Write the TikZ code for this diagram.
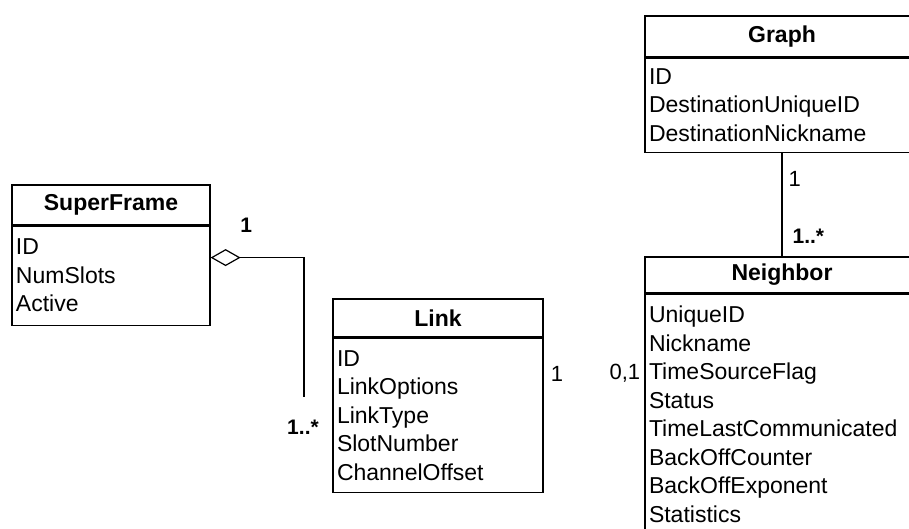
\documentclass[tikz,border=0pt]{standalone}
\usepackage{fontspec}
\setmainfont{Liberation Sans}
\usetikzlibrary{positioning}
\usetikzlibrary{arrows.meta}

\tikzset{
  classhead/.style={draw, rectangle, line width=1.2pt, inner sep=0pt, font=\fontsize{23}{26}\selectfont\bfseries},
  classbody/.style={draw, rectangle, line width=1.2pt, inner xsep=4pt, inner ysep=0pt, align=left, font=\fontsize{23}{28.5}\selectfont},
  mult/.style={inner sep=0pt, font=\fontsize{22}{24}\selectfont},
  multbold/.style={inner sep=0pt, font=\fontsize{21}{24}\selectfont\bfseries},
}

\begin{document}
\begin{tikzpicture}[x=1pt, y=1pt]
    \useasboundingbox (0,0) rectangle (909,528);
    \clip (0,0) rectangle (909,528);

    % SuperFrame
    \node[classhead, minimum width=198pt, minimum height=40pt] (sfhead) at (111,323) {SuperFrame};
    \node[classbody, text width=190pt, minimum height=99pt, below=0pt of sfhead] (sfbody) {ID\\NumSlots\\Active};
    % Link
    \node[classhead, minimum width=210pt, minimum height=38pt] (lhead) at (438,210) {Link};
    \node[classbody, text width=202pt, minimum height=154pt, below=0pt of lhead] (lbody) {ID\\LinkOptions\\LinkType\\SlotNumber\\ChannelOffset};
    % Graph
    \node[classhead, minimum width=274pt, minimum height=41pt] (ghead) at (782,491.5) {Graph};
    \node[classbody, text width=266pt, minimum height=94pt, below=0pt of ghead] (gbody) {ID\\DestinationUniqueID\\DestinationNickname};
    % Neighbor
    \node[classhead, minimum width=274pt, minimum height=36pt] (nhead) at (782,253) {Neighbor};
    \node[classbody, text width=266pt, minimum height=240pt, below=0pt of nhead] (nbody) {UniqueID\\Nickname\\TimeSourceFlag\\Status\\TimeLastCommunicated\\BackOffCounter\\BackOffExponent\\Statistics};

    % SuperFrame aggregates Link
    \coordinate (aggend) at (304,131);
    \draw[line width=1.2pt, {Diamond[open, length=30pt, width=17pt]}-] ([yshift=-32pt]sfbody.north east) -| node[pos=0.19, above=24pt, multbold]{1} node[pos=1, below=22pt, xshift=-1pt, multbold]{1..*} (aggend);
    % Link / Neighbor multiplicities
    \node[mult, anchor=west] (lmult) at ([xshift=7pt, yshift=41pt]lbody.east) {1};
    \node[mult, anchor=east] (nmult) at ([xshift=-4pt, yshift=41pt]nbody.west) {0,1};
    % Graph to Neighbor
    \draw[line width=1.2pt] (gbody.south) -- node[pos=0.25, right=6pt, mult]{1} node[pos=0.81, right=10pt, multbold]{1..*} (nhead.north);

\end{tikzpicture}
\end{document}
